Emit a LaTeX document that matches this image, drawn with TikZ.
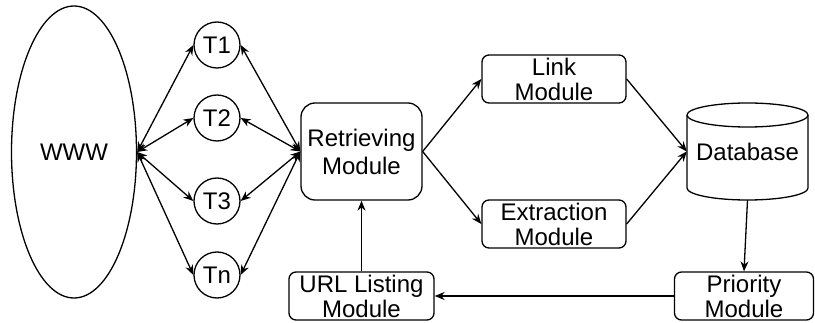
\documentclass[tikz,border=0pt]{standalone}
\usepackage{fontspec}
\setmainfont{Liberation Sans}
\usetikzlibrary{shapes.geometric,arrows.meta}
\begin{document}
\begin{tikzpicture}[x=1pt,y=-1pt,
  every node/.style={font=\fontsize{24pt}{25pt}\selectfont, inner sep=0pt},
  thr/.style={draw, circle, minimum size=46pt, line width=1.3pt},
  modbox/.style={draw, rounded corners=7pt, minimum width=144pt, minimum height=48pt, align=center, line width=1.3pt},
  conn/.style={line width=1.3pt, -{Stealth[length=10pt,width=8pt]}},
  biconn/.style={line width=1.3pt, {Stealth[length=10pt,width=8pt]}-{Stealth[length=10pt,width=8pt]}}
]
\useasboundingbox (0,0) rectangle (815,323);
\node[draw, ellipse, line width=1.3pt, minimum width=125pt, minimum height=292pt] (www) at (74,152) {WWW};
\node[thr] (t1) at (217,45) {T1};
\node[thr] (t2) at (217,118) {T2};
\node[thr] (t3) at (217,201) {T3};
\node[thr] (tn) at (217,275) {Tn};
\node[draw, rounded corners=14pt, minimum width=121pt, minimum height=97pt, align=center, line width=1.3pt,
  font=\fontsize{24pt}{28pt}\selectfont] (ret) at (361.5,151.5) {Retrieving\\Module};
\node[modbox] (link) at (554,79) {Link\\Module};
\node[modbox] (ext) at (554,224) {Extraction\\Module};
\node[minimum width=121pt, minimum height=97pt] (db) at (747.5,151.5) {\raisebox{-5pt}{Database}};
\draw[line width=1.3pt] (687,115) -- (687,188) arc[start angle=180, end angle=360, x radius=60.5pt, y radius=12pt]
  -- (808,115) arc[start angle=0, end angle=180, x radius=60.5pt, y radius=12pt] -- cycle;
\draw[line width=1.3pt] (687,115) arc[start angle=180, end angle=360, x radius=60.5pt, y radius=12pt];
\node[modbox, minimum width=139pt] (pri) at (744,296) {Priority\\Module};
\node[modbox, minimum width=145pt] (url) at (361.5,296) {URL Listing\\Module};
\foreach \t in {t1,t2,t3,tn}{
  \draw[biconn] (www.east) -- (\t.west);
  \draw[biconn] (\t.east) -- (ret.west);
}
\draw[conn] (ret.east) -- (link.west);
\draw[conn] (ret.east) -- (ext.west);
\draw[conn] (link.east) -- (db.west);
\draw[conn] (ext.east) -- (db.west);
\draw[conn] (db.south) -- (pri.north);
\draw[conn] (pri.west) -- (url.east);
\draw[conn] (url.north) -- (ret.south);
\end{tikzpicture}
\end{document}
